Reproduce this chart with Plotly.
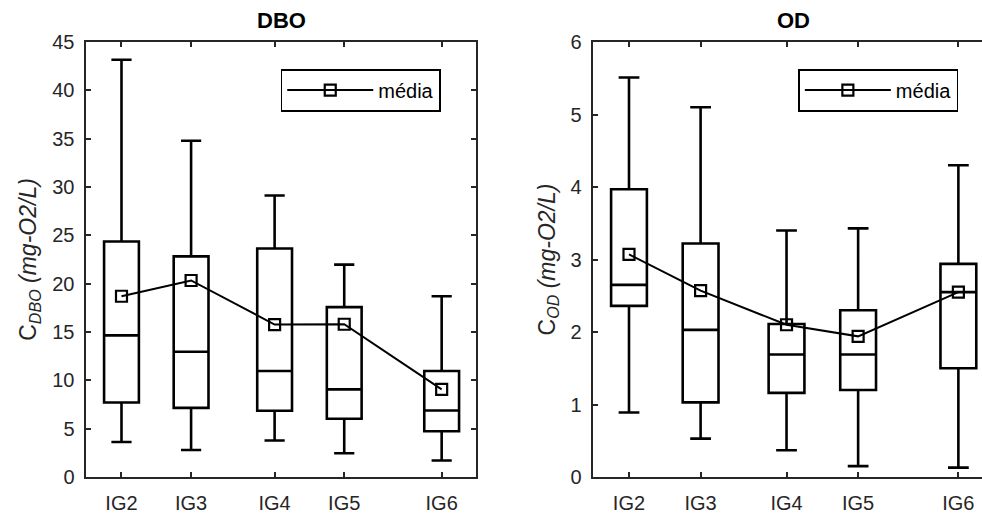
import plotly.graph_objects as go

groups = ["IG2", "IG3", "IG4", "IG5", "IG6"]
x_pos = [1, 2, 3.2, 4.2, 5.6]

dbo_low = [3.62, 2.80, 3.78, 2.45, 1.71]
dbo_q1 = [7.70, 7.15, 6.85, 6.03, 4.74]
dbo_med = [14.65, 12.95, 10.97, 9.06, 6.88]
dbo_q3 = [24.36, 22.82, 23.64, 17.57, 10.97]
dbo_high = [43.16, 34.78, 29.12, 21.97, 18.70]
dbo_mean = [18.70, 20.33, 15.77, 15.80, 9.06]

od_low = [0.89, 0.53, 0.37, 0.15, 0.13]
od_q1 = [2.36, 1.03, 1.16, 1.20, 1.50]
od_med = [2.65, 2.03, 1.69, 1.69, 2.55]
od_q3 = [3.97, 3.22, 2.11, 2.30, 2.94]
od_high = [5.51, 5.10, 3.40, 3.43, 4.30]
od_mean = [3.07, 2.57, 2.10, 1.94, 2.55]

FONT = "Liberation Sans, Arial, sans-serif"
AX = "#262626"

fig = go.Figure()

def add_panel(xa, ya, low, q1, med, q3, high, mean, legend):
    fig.add_trace(go.Box(
        x=x_pos, q1=q1, median=med, q3=q3, lowerfence=low, upperfence=high,
        width=0.5, whiskerwidth=0.58,
        line=dict(color="black", width=2.6), fillcolor="rgba(0,0,0,0)",
        xaxis=xa, yaxis=ya, showlegend=False, hoverinfo="skip",
    ))
    fig.add_trace(go.Scatter(
        x=x_pos, y=mean, mode="lines+markers", name="média",
        line=dict(color="black", width=2),
        marker=dict(symbol="square-open", size=11, color="black",
                    line=dict(width=2.2, color="black")),
        xaxis=xa, yaxis=ya, legend=legend, showlegend=True,
    ))

add_panel("x", "y", dbo_low, dbo_q1, dbo_med, dbo_q3, dbo_high, dbo_mean, "legend")
add_panel("x2", "y2", od_low, od_q1, od_med, od_q3, od_high, od_mean, "legend2")

common_x = dict(
    tickvals=x_pos, ticktext=groups, ticks="inside", ticklen=5, tickwidth=1.5,
    tickcolor=AX, showline=True, linecolor=AX, linewidth=2, mirror="ticks",
    showgrid=False, zeroline=False, ticklabelstandoff=7,
    tickfont=dict(family=FONT, size=20, color=AX),
)
common_y = dict(
    ticks="inside", ticklen=5, tickwidth=1.5, tickcolor=AX, showline=True,
    linecolor=AX, linewidth=2, showgrid=False, zeroline=False,
    ticklabelstandoff=5, tickfont=dict(family=FONT, size=20, color=AX),
)

legend_style = dict(
    bordercolor="black", borderwidth=1.6, bgcolor="white",
    font=dict(family=FONT, size=20, color="black"),
    xanchor="left", yanchor="top", itemwidth=86,
)

fig.update_layout(
    width=982, height=514,
    margin=dict(l=0, r=0, t=42, b=31),
    paper_bgcolor="white", plot_bgcolor="white",
    font=dict(family=FONT, color=AX),
    xaxis=dict(domain=[0.08707, 0.48442], range=[0.483, 6.089], **common_x),
    yaxis=dict(range=[0, 45], tickvals=list(range(0, 46, 5)), mirror="ticks",
               title=dict(text="C<sub><i>DBO</i></sub> <i>(mg-O2/L)</i>",
                          font=dict(family=FONT, size=23, color=AX), standoff=9),
               **common_y),
    xaxis2=dict(domain=[0.60356, 1.0], range=[0.493, 5.93], anchor="y2", **common_x),
    yaxis2=dict(range=[0, 6], tickvals=list(range(0, 7)), anchor="x2", mirror=False,
                title=dict(text="C<sub><i>OD</i></sub> <i>(mg-O2/L)</i>",
                           font=dict(family=FONT, size=23, color=AX), standoff=9),
                **common_y),
    legend=dict(x=0.2858, y=0.938, **legend_style),
    legend2=dict(x=0.8129, y=0.938, **legend_style),
    boxmode="overlay",
    annotations=[
        dict(text="<b>DBO</b>", x=281 / 982, y=1, xref="paper", yref="paper",
             xanchor="center", yanchor="bottom", yshift=7, showarrow=False,
             font=dict(family=FONT, size=22, color="black")),
        dict(text="<b>OD</b>", x=793.5 / 982, y=1, xref="paper", yref="paper",
             xanchor="center", yanchor="bottom", yshift=7, showarrow=False,
             font=dict(family=FONT, size=22, color="black")),
    ],
)

fig.write_html("out.html")
